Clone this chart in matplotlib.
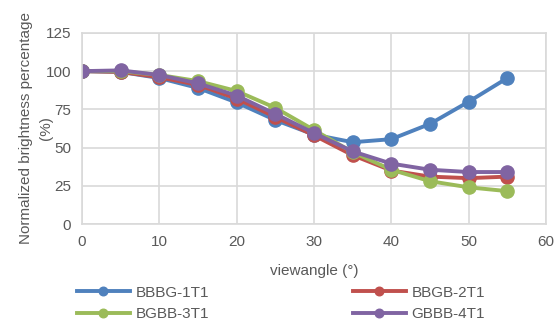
import matplotlib
matplotlib.use("Agg")
import matplotlib.pyplot as plt

plt.rcParams['font.family'] = ['Liberation Sans', 'DejaVu Sans']

# данные с графика
angles = [0, 5, 10, 15, 20, 25, 30, 35, 40, 45, 50, 55]
bbbg = [100, 99.5, 95.5, 89, 79.5, 68, 58.5, 53.5, 55.5, 65.5, 80, 95.5]
bbgb = [100, 99.5, 96, 91, 82, 70, 58, 45, 35, 31, 30, 31]
bgbb = [100, 100, 97.5, 93.5, 87, 76, 61.5, 47, 35.5, 28, 24, 21.5]
gbbb = [100, 100.5, 97.5, 92, 84, 72, 59.5, 47.5, 39.5, 35.5, 34, 34]
names = ["BBBG-1T1", "BBGB-2T1", "BGBB-3T1", "GBBB-4T1"]
colors = ["#4F81BD", "#C0504D", "#9BBB59", "#8064A2"]

txt = "#595959"
grid = "#D9D9D9"
fs = 11

fig = plt.figure(figsize=(5.56, 3.23), dpi=100)
ax = fig.add_axes([0.1475, 0.3065, 0.8345, 0.5915])

lines = []
for vals, name, c in zip([bbbg, bbgb, bgbb, gbbb], names, colors):
    ln, = ax.plot(angles, vals, color=c, lw=2.8, marker="o", markersize=9.5, label=name)
    lines.append(ln)

ax.set_xlim(0, 60)
ax.set_ylim(0, 125)
ax.set_xticks(range(0, 61, 10))
ax.set_yticks(range(0, 126, 25))
ax.grid(True, color=grid, lw=1.2)
ax.set_axisbelow(True)
for s in ax.spines.values():
    s.set_color(grid)
    s.set_linewidth(1.2)
ax.tick_params(length=0, labelsize=fs, colors=txt, pad=8)

ax.set_xlabel("viewangle (°)", fontsize=fs, color=txt, labelpad=11)
ax.set_ylabel("Normalized brightness percentage\n(%)", fontsize=fs, color=txt,
              linespacing=1.6)
ax.yaxis.set_label_coords(-0.062, 0.5)

# порядок по строкам, как в Excel
order = [0, 2, 1, 3]
fig.legend([lines[i] for i in order], [names[i] for i in order],
           loc="lower center", bbox_to_anchor=(0.505, -0.014), ncol=2, frameon=False,
           fontsize=fs, labelcolor=txt, handlelength=3.5, handletextpad=0.35,
           columnspacing=9.4, borderaxespad=0, labelspacing=0.5, markerscale=0.65)

fig.savefig("out.png", dpi=100)
